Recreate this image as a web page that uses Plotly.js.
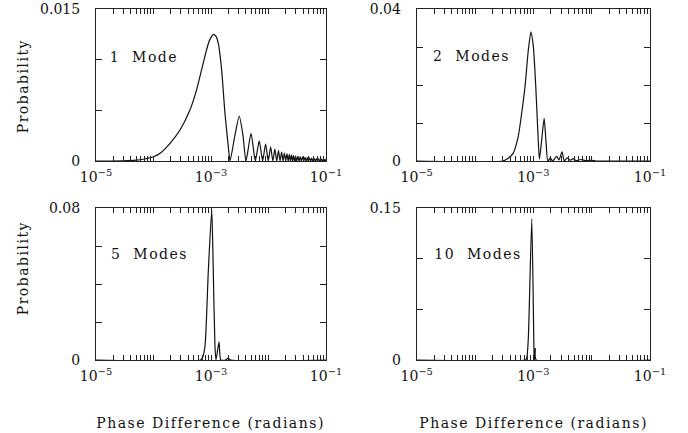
<!DOCTYPE html>
<html>
<head>
<meta charset="utf-8">
<script src="https://cdn.plot.ly/plotly-3.0.1.min.js"></script>
<style>
html,body{margin:0;padding:0;background:#fff}
#chart{width:688px;height:433px}
#chart .annotation-text{letter-spacing:1.5px}
</style>
</head>
<body>
<div id="chart"></div>
<script>
// ---- Data ----
// Panel 1: 1 Mode
var x1 = [1e-5, 3e-5, 5e-5, 7e-5, 1e-4, 1.3e-4, 1.94e-4, 2.89e-4, 4.3e-4, 5.6e-4, 7.3e-4, 9.0e-4, 1.0e-3, 1.1e-3, 1.22e-3, 1.34e-3, 1.53e-3, 1.75e-3, 2.0e-3, 2.14e-3,
  2.6e-3, 3.1e-3, 3.6e-3, 4.06e-3, 4.97e-3, 5.9e-3, 6.9e-3, 7.9e-3, 8.9e-3, 9.9e-3, 1.09e-2, 1.19e-2, 1.29e-2, 1.39e-2, 1.49e-2, 1.59e-2, 1.69e-2, 1.79e-2, 1.89e-2, 1.99e-2,
  2.1e-2, 2.2e-2, 2.3e-2, 2.4e-2, 2.5e-2, 2.6e-2, 2.7e-2, 2.8e-2, 2.95e-2, 3.1e-2, 3.25e-2, 3.4e-2, 3.55e-2, 3.7e-2, 3.9e-2, 4.1e-2, 4.3e-2, 4.5e-2, 4.7e-2, 4.9e-2,
  5.15e-2, 5.4e-2, 5.65e-2, 5.9e-2, 6.2e-2, 6.5e-2, 6.8e-2, 7.1e-2, 7.45e-2, 7.8e-2, 8.2e-2, 8.6e-2, 9.0e-2, 9.4e-2, 9.7e-2, 1e-1];
var y1 = [0, 0.00002, 0.00008, 0.0002, 0.00042, 0.00076, 0.00175, 0.00306, 0.00503, 0.0070, 0.00964, 0.0116, 0.0122, 0.0125, 0.0123, 0.0116, 0.0090, 0.0047, 0.0014, 0,
  0.0025, 0.00444, 0.0025, 0, 0.00273, 0, 0.0020, 0, 0.00168, 0, 0.0014, 0, 0.00118, 0, 0.00102, 0, 0.00088, 0, 0.00078, 0,
  0.0007, 0, 0.00066, 0, 0.0006, 0, 0.00056, 0, 0.00052, 0, 0.00048, 0, 0.00044, 0, 0.0004, 0, 0.00036, 0, 0.00033, 0,
  0.0003, 0, 0.00028, 0, 0.00026, 0, 0.00024, 0, 0.00022, 0, 0.0002, 0, 0.00018, 0, 0.00017, 0];

// Panel 2: 2 Modes
var x2 = [1e-5, 3.0e-4, 3.7e-4, 4.5e-4, 5.5e-4, 6.3e-4, 7.2e-4, 8.2e-4, 9.1e-4, 1.0e-3, 1.1e-3, 1.19e-3, 1.27e-3, 1.4e-3, 1.53e-3, 1.65e-3, 1.77e-3,
  1.95e-3, 2.15e-3, 2.5e-3, 2.75e-3, 3.1e-3, 3.4e-3, 3.8e-3, 4.3e-3, 4.8e-3, 5.5e-3, 6.5e-3, 8e-3, 1e-2, 1.2e-2, 1e-1];
var y2 = [0, 0, 0.0007, 0.002, 0.0064, 0.0125, 0.0196, 0.0292, 0.0340, 0.0301, 0.0196, 0.0082, 0.0005, 0.0060, 0.0112, 0.0050, 0,
  0.0008, 0, 0.0012, 0.0003, 0.0024, 0, 0.0008, 0.0002, 0.0006, 0.0001, 0.0004, 0.0001, 0.0002, 0, 0];

// Panel 3: 5 Modes
var x3 = [1e-5, 6.6e-4, 7.2e-4, 7.9e-4, 8.97e-4, 1.03e-3, 1.096e-3, 1.17e-3, 1.22e-3, 1.38e-3, 1.48e-3, 1.8e-3, 2.0e-3, 2.2e-3, 1e-1];
var y3 = [0, 0, 0.0017, 0.0079, 0.0465, 0.079, 0.0465, 0.0079, 0, 0.0095, 0, 0, 0.001, 0, 0];

// Panel 4: 10 Modes
var x4 = [1e-5, 7.3e-4, 7.7e-4, 8.2e-4, 9.4e-4, 1.03e-3, 1.04e-3, 1.08e-3, 1.12e-3, 1e-1];
var y4 = [0, 0, 0.0017, 0.0214, 0.139, 0.003, 0, 0.0115, 0, 0];

var panelLabels = ["1\u00a0\u00a0Mode", "2\u00a0\u00a0Modes", "5\u00a0\u00a0Modes", "10\u00a0\u00a0Modes"];
var yMax = [0.015, 0.04, 0.08, 0.15];
var yLabelVals = [[0, 0.015], [0, 0.04], [0, 0.08], [0, 0.15]];
var yLabelText = [["0", "0.015"], ["0", "0.04"], ["0", "0.08"], ["0", "0.15"]];
var yMinorVals = [[0.005, 0.01], [0.01, 0.02, 0.03], [0.02, 0.04, 0.06], [0.05, 0.1]];
var xLabelVals = [1e-5, 1e-3, 1e-1];
var xLabelText = ["10<sup>\u22125</sup>", "10<sup>\u22123</sup>", "10<sup>\u22121</sup>"];
var xMinorVals = [1e-4, 1e-2];
[1e-5, 1e-4, 1e-3, 1e-2].forEach(function (d) { [2, 3, 4, 5, 6, 7, 8, 9].forEach(function (m) { xMinorVals.push(+(d * m).toPrecision(3)); }); });
var xTitle = "Phase Difference (radians)";
var yTitle = "Probability";

// ---- Layout ----
var W = 688, H = 433;
var FONT = "DejaVu Serif, Liberation Serif, serif";
var xDomL = [96 / W, 326 / W], xDomR = [416.7 / W, 650 / W];
var yDomT = [1 - 161 / H, 1 - 9 / H], yDomB = [1 - 360 / H, 1 - 208 / H];
var xDoms = [xDomL, xDomR, xDomL, xDomR];
var yDoms = [yDomT, yDomT, yDomB, yDomB];
var xs = [x1, x2, x3, x4], ys = [y1, y2, y3, y4];

var data = [];
var layout = {
  width: W, height: H,
  margin: {l: 0, r: 0, t: 0, b: 0},
  paper_bgcolor: "#fff", plot_bgcolor: "#fff",
  showlegend: false,
  font: {family: FONT, size: 14, color: "#111"},
  annotations: []
};

for (var i = 0; i < 4; i++) {
  var n = i === 0 ? "" : String(i + 1);
  data.push({
    x: xs[i], y: ys[i], type: "scatter", mode: "lines",
    xaxis: "x" + n, yaxis: "y" + n,
    line: {color: "#111", width: 1.2, shape: "spline", smoothing: 0.6},
    hoverinfo: "skip"
  });
  layout["xaxis" + n] = {
    domain: xDoms[i], anchor: "y" + n, type: "log", range: [-5, -1],
    tickmode: "array", tickvals: xLabelVals, ticktext: xLabelText,
    ticks: "inside", ticklen: 5, tickwidth: 1, tickcolor: "#222",
    minor: {tickmode: "array", tickvals: xMinorVals, ticks: "inside", ticklen: 5, tickwidth: 1, tickcolor: "#222", showgrid: false},
    showline: true, linecolor: "#222", linewidth: 1, mirror: "ticks",
    showgrid: false, zeroline: false, fixedrange: true,
    tickfont: {family: FONT, size: 14, color: "#111"},
    ticklabelstandoff: 3
  };
  layout["yaxis" + n] = {
    domain: yDoms[i], anchor: "x" + n, range: [0, yMax[i]],
    tickmode: "array", tickvals: yLabelVals[i], ticktext: yLabelText[i],
    ticks: "inside", ticklen: 6, tickwidth: 1, tickcolor: "#222",
    minor: {tickmode: "array", tickvals: yMinorVals[i], ticks: "inside", ticklen: 6, tickwidth: 1, tickcolor: "#222", showgrid: false},
    showline: true, linecolor: "#222", linewidth: 1, mirror: "ticks",
    showgrid: false, zeroline: false, fixedrange: true,
    tickfont: {family: FONT, size: 14, color: "#111"},
    ticklabelstandoff: 12
  };
  // panel label
  var lx = [113, 437, 115, 439][i], ly = [57, 56, 254, 254][i];
  layout.annotations.push({
    text: panelLabels[i], xref: "paper", yref: "paper",
    x: lx / W, y: 1 - ly / H, xanchor: "left", yanchor: "middle",
    showarrow: false, font: {family: FONT, size: 14, color: "#111"}
  });
}
// axis titles
[[23, 86], [23, 268]].forEach(function (p) {
  layout.annotations.push({
    text: yTitle, xref: "paper", yref: "paper", x: p[0] / W, y: 1 - p[1] / H,
    xanchor: "center", yanchor: "middle", textangle: -90, showarrow: false,
    font: {family: FONT, size: 14, color: "#111"}
  });
});
[[210.5, 423], [533, 423]].forEach(function (p) {
  layout.annotations.push({
    text: xTitle, xref: "paper", yref: "paper", x: p[0] / W, y: 1 - p[1] / H,
    xanchor: "center", yanchor: "middle", showarrow: false,
    font: {family: FONT, size: 14, color: "#111"}
  });
});

Plotly.newPlot("chart", data, layout, {staticPlot: true, displayModeBar: false});
</script>
</body>
</html>
